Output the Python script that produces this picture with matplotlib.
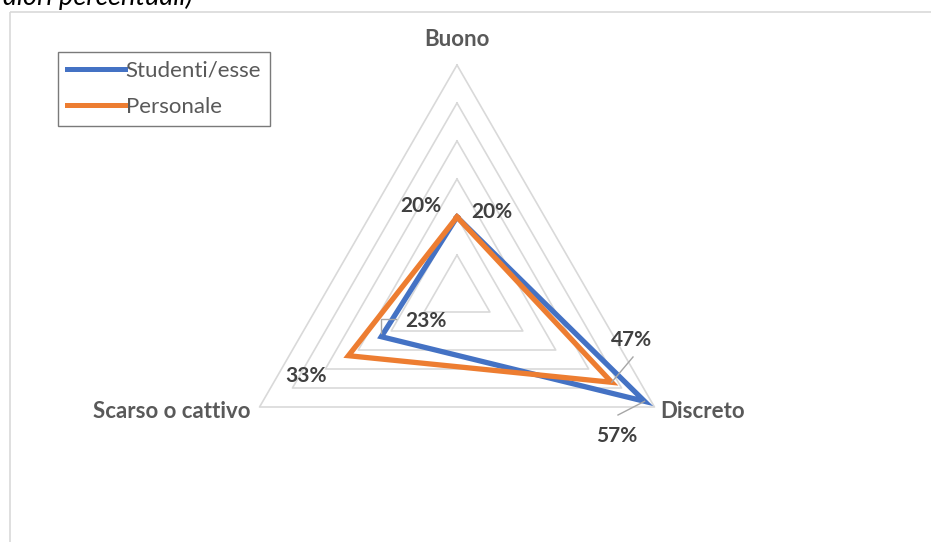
import numpy as np
import matplotlib.pyplot as plt
from matplotlib.patches import Rectangle

# categorie e valori (%)
categorie = ["Buono", "Discreto", "Scarso o cattivo"]
studenti = [20, 57, 23]
personale = [20, 47, 33]
serie_nomi = ["Studenti/esse", "Personale"]
colori = ["#4472C4", "#ED7D31"]
livelli = [10, 20, 30, 40, 50, 60]

# geometria del radar (in pixel)
cx, cy = 457, 293
rmax = 228
vmax = 60
angoli = np.deg2rad([90, -30, 210])


def punti(valori):
    r = np.array(valori) / vmax * rmax
    x = cx + r * np.cos(angoli)
    y = cy - r * np.sin(angoli)
    return np.append(x, x[0]), np.append(y, y[0])


plt.rcParams['font.family'] = ['Lato', 'DejaVu Sans']
fig = plt.figure(figsize=(9.31, 5.42), dpi=100)
ax = fig.add_axes([0, 0, 1, 1])
ax.set_xlim(0, 931)
ax.set_ylim(542, 0)
ax.axis("off")

# cornice del grafico
ax.add_patch(Rectangle((9.5, 11.5), 960, 600, fill=False, edgecolor="#d9d9d9", lw=1.2))
ax.text(193, 5, "(valori percentuali)", ha="right", va="baseline",
        fontsize=19.5, style="italic", color="black")

# griglia
for lv in livelli:
    gx, gy = punti([lv] * 3)
    ax.plot(gx, gy, color="#d9d9d9", lw=1.2, zorder=1)

# serie
for vals, col, nome in zip([studenti, personale], colori, serie_nomi):
    px, py = punti(vals)
    ax.plot(px, py, color=col, lw=3.8, solid_joinstyle="miter", zorder=3, label=nome)

# etichette delle categorie
cat = dict(ha="center", va="center", fontsize=16, fontweight="bold", color="#595959")
ax.text(457, 40, categorie[0], **cat)
ax.text(703, 412, categorie[1], **cat)
ax.text(172, 412, categorie[2], **cat)

# etichette dei valori
lab = dict(ha="center", va="center", fontsize=15, fontweight="bold", color="#404040", zorder=5)
ax.text(421, 206, f"{personale[0]}%", **lab)
ax.text(492, 212, f"{studenti[0]}%", **lab)
ax.text(426, 321, f"{studenti[2]}%", **lab)
ax.text(306, 376, f"{personale[2]}%", **lab)
ax.text(632, 340, f"{personale[1]}%", **lab)
ax.text(617, 436, f"{studenti[1]}%", **lab)

# linee guida delle etichette
sx, sy = punti(studenti)
pxp, pyp = punti(personale)
ax.plot([pxp[1], 633], [pyp[1], 357], color="#a6a6a6", lw=1, zorder=4)
ax.plot([sx[1], 618], [sy[1], 415], color="#a6a6a6", lw=1, zorder=4)
ax.plot([sx[2], sx[2], 396], [sy[2] - 4, 319, 319], color="#a6a6a6", lw=1, zorder=4)

# legenda
leg = ax.legend(loc="upper left", bbox_to_anchor=(58 / 931, 1 - 52 / 542),
                frameon=True, fancybox=False, fontsize=16, handlelength=2.6,
                handletextpad=0.05, borderpad=0.4, labelspacing=0.72,
                borderaxespad=0)
leg.get_frame().set_edgecolor("#595959")
leg.get_frame().set_linewidth(1)
for line in leg.get_lines():
    line.set_linewidth(3.6)
for t in leg.get_texts():
    t.set_color("#595959")

fig.savefig("out.png", dpi=100)
